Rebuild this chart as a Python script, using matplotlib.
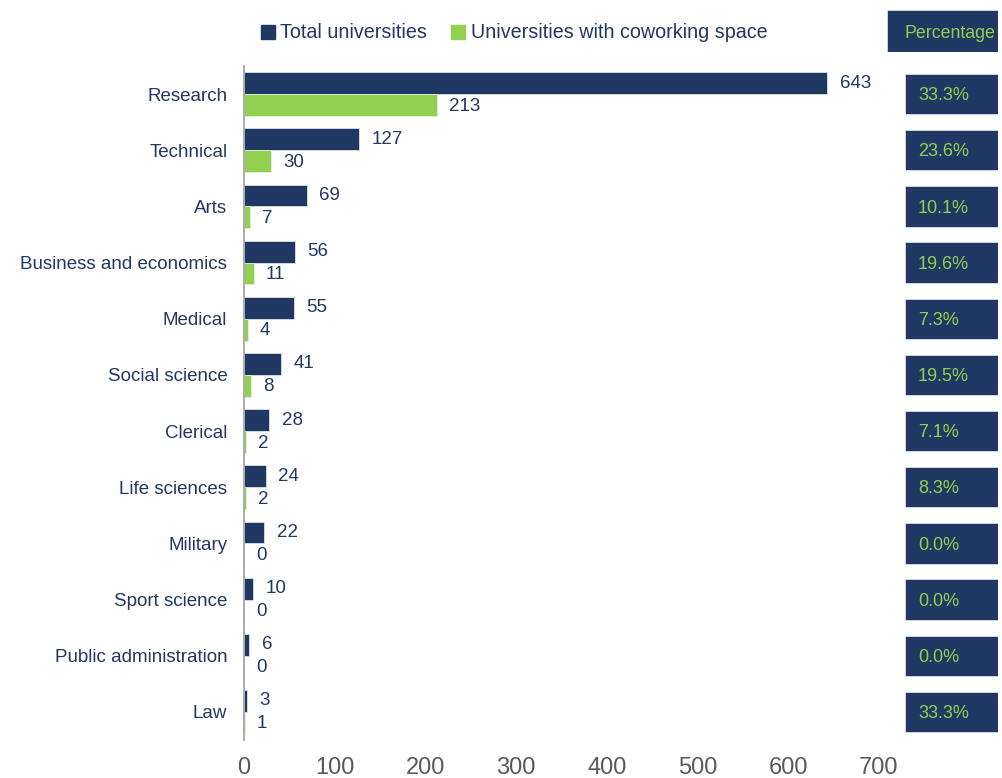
import matplotlib
matplotlib.use("Agg")
import matplotlib.pyplot as plt
from matplotlib.patches import Rectangle
from matplotlib.font_manager import findfont, FontProperties

categories = ["Research", "Technical", "Arts", "Business and economics", "Medical",
              "Social science", "Clerical", "Life sciences", "Military",
              "Sport science", "Public administration", "Law"]
total = [643, 127, 69, 56, 55, 41, 28, 24, 22, 10, 6, 3]
coworking = [213, 30, 7, 11, 4, 8, 2, 2, 0, 0, 0, 1]
percentages = ["33.3%", "23.6%", "10.1%", "19.6%", "7.3%", "19.5%",
               "7.1%", "8.3%", "0.0%", "0.0%", "0.0%", "33.3%"]
x_ticks = [0, 100, 200, 300, 400, 500, 600, 700]

NAVY = "#203864"
GREEN = "#92D050"
GREY = "#595959"
EDGE = "#eeeeee"

# narrow face for numbers, when available
narrow = "Liberation Sans Narrow"
try:
    findfont(FontProperties(family=narrow), fallback_to_default=False)
    num_family = [narrow, "DejaVu Sans"]
except Exception:
    num_family = ["Liberation Sans", "DejaVu Sans"]
lab_family = ["Liberation Sans", "DejaVu Sans"]

fig = plt.figure(figsize=(10.02, 7.78), dpi=100)
W, H = 1002, 778
ax = fig.add_axes([244 / W, 1 - 740 / H, (879 - 244) / W, (740 - 66) / H])

n = len(categories)
ys = list(range(n))
bh = 0.39
ax.barh([y - bh / 2 for y in ys], total, height=bh, color=NAVY,
        edgecolor=EDGE, linewidth=0.5)
ax.barh([y + bh / 2 for y in ys], coworking, height=bh, color=GREEN,
        edgecolor=EDGE, linewidth=0.5)

for y, t, c in zip(ys, total, coworking):
    ax.text(t + 14, y - bh / 2, str(t), va="center", ha="left",
            color=NAVY, fontsize=13.5, family=num_family)
    ax.text(c + 13, y + bh / 2 + 0.02, str(c), va="center", ha="left",
            color=NAVY, fontsize=13.5, family=num_family)

ax.set_xlim(0, 700)
ax.set_ylim(n - 0.5, -0.5)
ax.set_yticks(ys)
ax.set_yticklabels(categories, color=NAVY, fontsize=13.5, family=lab_family)
ax.set_xticks(x_ticks)
ax.set_xticklabels([str(v) for v in x_ticks], color=GREY, fontsize=17,
                   family=lab_family)
ax.tick_params(axis="both", length=0)
ax.tick_params(axis="y", pad=12)
ax.tick_params(axis="x", pad=12)
for s in ["top", "right", "bottom"]:
    ax.spines[s].set_visible(False)
ax.spines["left"].set_color("#A6A6A6")
ax.spines["left"].set_linewidth(1.3)

# percentage column
pax = fig.add_axes([905 / W, 1 - 740 / H, (998 - 905) / W, (740 - 66) / H],
                   sharey=ax)
pax.set_xlim(0, 1)
pax.axis("off")
for y, p in zip(ys, percentages):
    pax.add_patch(Rectangle((0, y - 0.36), 1, 0.72, facecolor=NAVY,
                            edgecolor=EDGE, linewidth=0.5))
    pax.text(0.14, y + 0.03, p, va="center", ha="left", color=GREEN,
             fontsize=13, family=num_family)

# header box
hax = fig.add_axes([887 / W, 1 - 52 / H, (998 - 887) / W, (52 - 10) / H])
hax.set_xlim(0, 1)
hax.set_ylim(0, 1)
hax.axis("off")
hax.add_patch(Rectangle((0, 0), 1, 1, facecolor=NAVY, edgecolor=EDGE,
                        linewidth=0.5))
hax.text(0.57, 0.45, "Percentage", ha="center", va="center", color=GREEN,
         fontsize=12.8, family=num_family)

# legend
handles = [Rectangle((0, 0), 1, 1, color=NAVY), Rectangle((0, 0), 1, 1, color=GREEN)]
fig.legend(handles, ["Total universities", "Universities with coworking space"],
           loc="center", bbox_to_anchor=(514 / W, 1 - 33 / H), ncol=2,
           frameon=False, handlelength=0.7, handleheight=0.7,
           handletextpad=0.3, columnspacing=1.2,
           prop={"family": num_family, "size": 14.2}, labelcolor=NAVY)

fig.savefig("out.png", dpi=100)
